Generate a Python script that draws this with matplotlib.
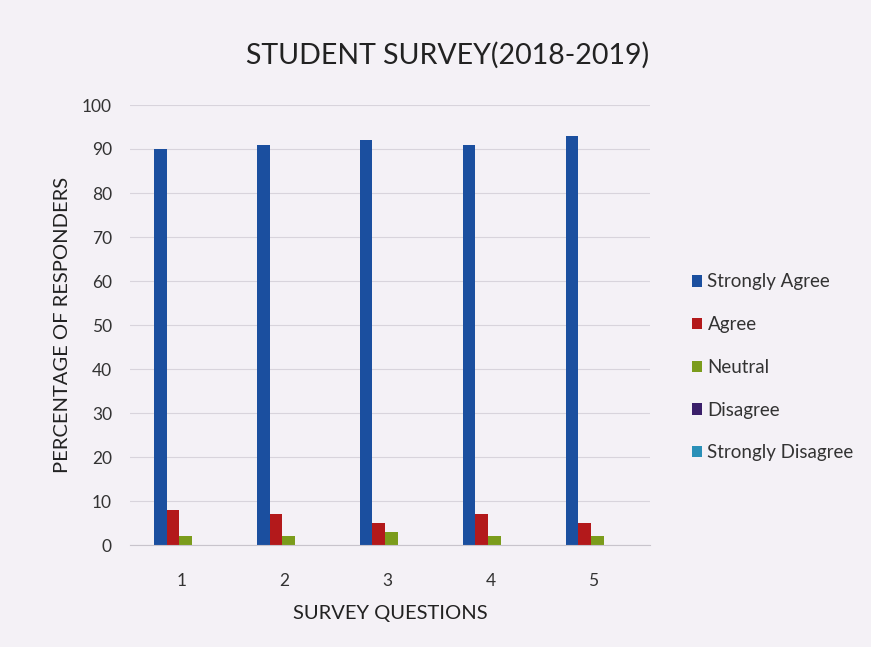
import matplotlib
matplotlib.use("Agg")
import matplotlib.pyplot as plt
import numpy as np

plt.rcParams['font.family'] = ['Lato', 'DejaVu Sans']

questions = ['1', '2', '3', '4', '5']
series_names = ['Strongly Agree', 'Agree', 'Neutral', 'Disagree', 'Strongly Disagree']
strongly_agree = [90, 91, 92, 91, 93]
agree = [8, 7, 5, 7, 5]
neutral = [2, 2, 3, 2, 2]
disagree = [0, 0, 0, 0, 0]
strongly_disagree = [0, 0, 0, 0, 0]
values = [strongly_agree, agree, neutral, disagree, strongly_disagree]
colors = ['#1b4f9f', '#b3191b', '#7b9c1c', '#3a1f6a', '#2a90b8']

bg = '#f4f1f6'
fig = plt.figure(figsize=(8.71, 6.47), dpi=100, facecolor=bg)
ax = fig.add_axes([130/871, 1 - 545/647, 520/871, 440/647], facecolor=bg)

x = np.arange(len(questions))
w = 0.125
for i, (name, vals, c) in enumerate(zip(series_names, values, colors)):
    ax.bar(x - 0.4 + w * i + w / 2 + 0.13, vals, width=w, color=c, label=name)

ax.set_xlim(-0.5, 4.55)
ax.set_ylim(0, 100)
ax.set_yticks(range(0, 101, 10))
ax.set_xticks(x)
ax.set_xticklabels(questions)
ax.tick_params(axis='y', length=0, labelsize=12.5, colors='#333333', pad=13)
ax.tick_params(axis='x', length=0, labelsize=12.5, colors='#333333', pad=20)
ax.yaxis.grid(True, color='#d8d4dc', linewidth=0.8)
ax.set_axisbelow(True)
for s in ['top', 'right', 'left']:
    ax.spines[s].set_visible(False)
ax.spines['bottom'].set_color('#c8c4cc')

ax.set_xlabel('SURVEY QUESTIONS', fontsize=14.5, color='#222222', labelpad=12)
ax.set_ylabel('PERCENTAGE OF RESPONDERS', fontsize=14.5, color='#222222', labelpad=8)
fig.text(448/871, 1 - 55/647, 'STUDENT SURVEY(2018-2019)', ha='center', va='center',
         fontsize=20.5, color='#222222')

leg = ax.legend(loc='upper left', bbox_to_anchor=(684/871, 1 - 266/647),
                bbox_transform=fig.transFigure, frameon=False, fontsize=13.5,
                handlelength=0.55, handleheight=0.55, handletextpad=0.3,
                labelspacing=1.37, borderaxespad=0)
for t in leg.get_texts():
    t.set_color('#333333')

fig.savefig('out.png', dpi=100, facecolor=bg)
